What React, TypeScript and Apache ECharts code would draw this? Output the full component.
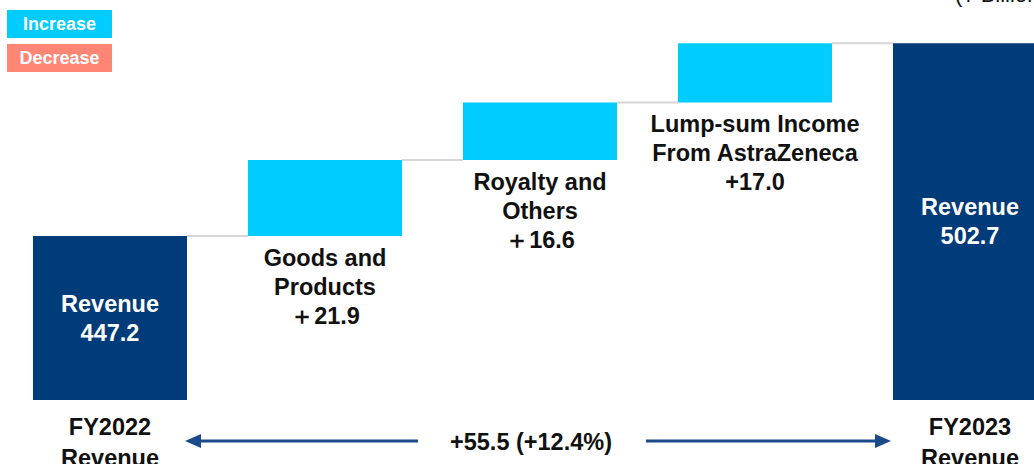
import React, { useEffect, useRef } from 'react';
import * as echarts from 'echarts';

// ---- data ----
const categories = ['FY2022 Revenue', 'Goods and Products', 'Royalty and Others', 'Lump-sum Income From AstraZeneca', 'FY2023 Revenue'];
const barNames = ['Revenue', 'Goods and\nProducts', 'Royalty and\nOthers', 'Lump-sum Income\nFrom AstraZeneca', 'Revenue'];
const axisLabels = ['FY2022\nRevenue', '', '', '', 'FY2023\nRevenue'];
const values = [447.2, 21.9, 16.6, 17.0, 502.7];
const kinds = ['total', 'increase', 'increase', 'increase', 'total'];
const signs = ['', '＋', '＋', '+', ''];
const legendItems = ['Increase', 'Decrease'];
const unitLabel = '(¥ Billion)';
const yMin = 400;
const yMax = 510;

// ---- styles ----
const FONT = '"Liberation Sans", Arial, Helvetica, sans-serif';
const TOTAL_COLOR = '#003b7a';
const INC_COLOR = '#00ccff';
const DEC_COLOR = '#ff8575';
const CONNECTOR = '#d6d6d6';
const ARROW_COLOR = '#1a4a8a';
const TEXT = '#111111';

export default function App() {
  const ref = useRef<HTMLDivElement>(null);

  useEffect(() => {
    if (!ref.current) return;
    const chart = echarts.init(ref.current, undefined, { renderer: 'svg' });

    // waterfall ranges derived from values
    const rows: number[][] = [];
    let running = 0;
    values.forEach((v, i) => {
      if (kinds[i] === 'total') {
        rows.push([i, yMin, v]);
        running = v;
      } else {
        rows.push([i, running, running + v]);
        running += v;
      }
    });
    const n = rows.length;
    const first = values[0];
    const last = values[n - 1];
    const diff = last - first;
    const pct = (diff / first) * 100;
    const summary = `+${diff.toFixed(1)} (+${pct.toFixed(1)}%)`;

    const renderItem = (params: any, api: any) => {
      const i = api.value(0);
      const start = api.value(1);
      const end = api.value(2);
      const p0 = api.coord([i, start]);
      const p1 = api.coord([i, end]);
      const band = api.size([1, 0])[0];
      const w = band * 0.7163;
      const x = p0[0] - w / 2;
      const children: any[] = [];
      if (i < n - 1) {
        const nx = api.coord([i + 1, end]);
        children.push({
          type: 'line',
          shape: { x1: x + w, y1: p1[1], x2: nx[0] - w / 2, y2: p1[1] },
          style: { stroke: CONNECTOR, lineWidth: 2 },
        });
      }
      const isTotal = kinds[i] === 'total';
      children.push({
        type: 'rect',
        shape: { x, y: p1[1], width: w, height: p0[1] - p1[1] },
        style: { fill: isTotal ? TOTAL_COLOR : INC_COLOR },
      });
      const label = `${barNames[i]}\n${signs[i]}${values[i].toFixed(1)}`;
      children.push({
        type: 'text',
        x: p0[0],
        y: isTotal ? (p0[1] + p1[1]) / 2 : p0[1] + 7,
        style: {
          text: label,
          fill: isTotal ? '#ffffff' : TEXT,
          font: `bold 23.5px ${FONT}`,
          align: 'center',
          verticalAlign: isTotal ? 'middle' : 'top',
          lineHeight: 29,
        },
      });
      return { type: 'group', children };
    };

    const arrowY = 441;
    chart.setOption({
      animation: false,
      grid: { left: 2.5, width: 1075, top: 18, height: 382, outerBoundsMode: 'none', containLabel: false },
      xAxis: {
        type: 'category',
        data: categories,
        axisLine: { show: false },
        axisTick: { show: false },
        splitLine: { show: false },
        axisLabel: {
          interval: 0,
          margin: 11,
          formatter: (_v: string, idx: number) => axisLabels[idx],
          fontFamily: FONT,
          fontWeight: 'bold',
          fontSize: 23.5,
          lineHeight: 31,
          color: TEXT,
        },
      },
      yAxis: {
        type: 'value',
        min: yMin,
        max: yMax,
        show: false,
        splitLine: { show: false },
      },
      series: [
        {
          type: 'custom',
          renderItem,
          data: rows,
          encode: { x: 0, y: [1, 2] },
          clip: false,
        },
      ],
      graphic: [
        // legend boxes
        ...legendItems.map((name, k) => ({
          type: 'group',
          left: 7,
          top: 10 + k * 34,
          children: [
            { type: 'rect', shape: { x: 0, y: 0, width: 105, height: 28 }, style: { fill: k === 0 ? INC_COLOR : DEC_COLOR } },
            {
              type: 'text',
              x: 52.5,
              y: 14,
              style: { text: name, fill: '#ffffff', font: `bold 18px ${FONT}`, align: 'center', verticalAlign: 'middle' },
            },
          ],
        })),
        {
          type: 'text',
          x: 955,
          y: -6,
          style: { text: unitLabel, fill: TEXT, font: `22px ${FONT}`, align: 'left', verticalAlign: 'middle' },
        },
        // summary arrow
        {
          type: 'line',
          shape: { x1: 198, y1: arrowY, x2: 418, y2: arrowY },
          style: { stroke: ARROW_COLOR, lineWidth: 3 },
        },
        {
          type: 'polygon',
          shape: { points: [[185, arrowY], [201, arrowY - 7], [201, arrowY + 7]] },
          style: { fill: ARROW_COLOR },
        },
        {
          type: 'line',
          shape: { x1: 646, y1: arrowY, x2: 878, y2: arrowY },
          style: { stroke: ARROW_COLOR, lineWidth: 3 },
        },
        {
          type: 'polygon',
          shape: { points: [[891, arrowY], [875, arrowY - 7], [875, arrowY + 7]] },
          style: { fill: ARROW_COLOR },
        },
        {
          type: 'text',
          x: 531,
          y: arrowY + 1,
          style: { text: summary, fill: TEXT, font: `bold 23.5px ${FONT}`, align: 'center', verticalAlign: 'middle' },
        },
      ],
    });

    return () => {
      chart.dispose();
    };
  }, []);

  return (
    <div style={{ position: 'fixed', left: 0, top: 0, width: 1034, height: 464, overflow: 'hidden', background: '#ffffff' }}>
      <div ref={ref} style={{ width: 1100, height: 464 }} />
    </div>
  );
}
